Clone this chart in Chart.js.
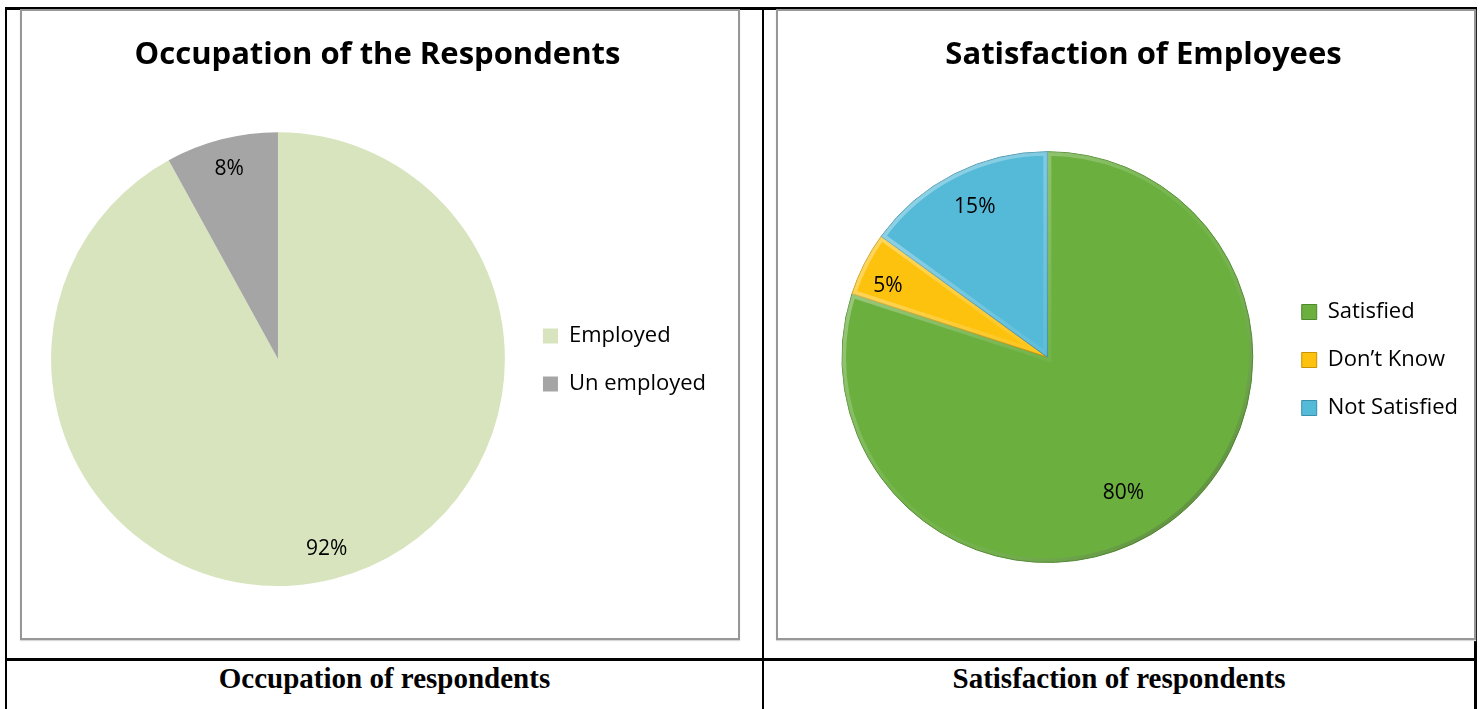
<!DOCTYPE html>
<html>
<head>
<meta charset="utf-8">
<script src="https://cdn.jsdelivr.net/npm/chart.js@4.4.1/dist/chart.umd.min.js"></script>
<style>
  body { margin: 0; background: #fff; width: 1483px; height: 709px; position: relative; overflow: hidden; }
  .rule { position: absolute; background: #000; }
  .box { position: absolute; border: 2px solid #979797; box-sizing: border-box; box-shadow: 0 1px 1px #d8d8d8; }
  canvas { position: absolute; }
  .caption { position: absolute; top: 661px; height: 34px; line-height: 34px; text-align: center;
             font-family: "Liberation Serif", "Times New Roman", serif; font-weight: bold; font-size: 29px; color: #000; }
</style>
</head>
<body>
<!-- table rules -->
<div class="rule" style="left:5px; top:7px; width:1472px; height:3px;"></div>
<div class="rule" style="left:5px; top:7px; width:2px; height:702px;"></div>
<div class="rule" style="left:1474px; top:7px; width:3px; height:702px;"></div>
<div class="rule" style="left:762px; top:7px; width:2px; height:702px;"></div>
<div class="rule" style="left:5px; top:658px; width:1472px; height:3px;"></div>

<div class="box" style="left:20px; top:9px; width:720px; height:631px;"></div>
<div class="box" style="left:776px; top:9px; width:700px; height:631px;"></div>

<canvas id="occupationChart" width="715" height="626" style="left:22px; top:11px;"></canvas>
<canvas id="satisfactionChart" width="696" height="626" style="left:778px; top:11px;"></canvas>

<div class="caption" style="left:7px; width:755px;">Occupation of respondents</div>
<div class="caption" style="left:764px; width:710px;">Satisfaction of respondents</div>

<script>
// datos
const occupationLabels = ['Employed', 'Un employed'];
const occupationValues = [92, 8];
const occupationColors = ['#D7E4BD', '#A5A5A5'];

const satisfactionLabels = ['Satisfied', 'Don\u2019t Know', 'Not Satisfied'];
const satisfactionValues = [80, 5, 15];
const satisfactionColors = ['#6BAF3F', '#FDC20E', '#55BAD8'];
const satisfactionBorders = ['#4E8A2B', '#C79400', '#3A8FAA'];

const fontFamily = "'Open Sans', 'Noto Sans', sans-serif";

// porcentajes dentro de cada sector
const pctLabels = {
  id: 'pctLabels',
  afterDatasetsDraw(chart, args, opts) {
    const ctx = chart.ctx;
    const values = chart.data.datasets[0].data;
    chart.getDatasetMeta(0).data.forEach((arc, i) => {
      const p = arc.getProps(['x', 'y', 'startAngle', 'endAngle', 'outerRadius'], true);
      const mid = (p.startAngle + p.endAngle) / 2 + (opts.shift ? opts.shift[i] : 0);
      const r = p.outerRadius * opts.radius[i];
      ctx.save();
      ctx.font = opts.font;
      ctx.fillStyle = '#000';
      ctx.textAlign = 'center';
      ctx.textBaseline = 'middle';
      ctx.fillText(values[i] + '%', p.x + Math.cos(mid) * r, p.y + Math.sin(mid) * r);
      ctx.restore();
    });
  }
};

// borde biselado para el segundo gráfico
const bevel = {
  id: 'bevel',
  afterDatasetsDraw(chart, args, opts) {
    if (!opts.enabled) return;
    const ctx = chart.ctx;
    chart.getDatasetMeta(0).data.forEach(arc => {
      const p = arc.getProps(['x', 'y', 'startAngle', 'endAngle', 'outerRadius'], true);
      const R = p.outerRadius;
      const g = ctx.createLinearGradient(p.x - R, p.y - R, p.x + R, p.y + R);
      g.addColorStop(0, 'rgba(255,255,255,0.45)');
      g.addColorStop(0.5, 'rgba(255,255,255,0.05)');
      g.addColorStop(1, 'rgba(0,0,0,0.35)');
      ctx.save();
      ctx.beginPath();
      ctx.moveTo(p.x, p.y);
      ctx.arc(p.x, p.y, R, p.startAngle, p.endAngle);
      ctx.closePath();
      ctx.clip();
      ctx.lineWidth = 8;
      ctx.strokeStyle = g;
      ctx.stroke();
      ctx.restore();
    });
  }
};

function titleOpts(text, bottom) {
  return {
    display: true,
    text: text,
    color: '#000',
    font: { family: fontFamily, size: 31, weight: 'bold' },
    padding: { top: 26, bottom: bottom }
  };
}

// leyenda a la derecha; el título vacío baja los elementos
function legendOpts(offset) {
  return {
    position: 'right',
    align: 'center',
    title: { display: true, text: '', font: { size: 10 }, padding: { top: offset, bottom: 0 } },
    labels: {
      color: '#000',
      font: { family: fontFamily, size: 22 },
      boxWidth: 15,
      boxHeight: 15,
      padding: 26
    }
  };
}

new Chart(document.getElementById('occupationChart'), {
  type: 'pie',
  data: {
    labels: occupationLabels,
    datasets: [{
      data: occupationValues,
      backgroundColor: occupationColors,
      borderWidth: 0
    }]
  },
  options: {
    responsive: false,
    animation: false,
    layout: { padding: { left: 17, right: 21, top: 0, bottom: 51 } },
    plugins: {
      title: titleOpts('Occupation of the Respondents', 58),
      legend: legendOpts(111),
      tooltip: { enabled: false },
      pctLabels: { font: '21px ' + fontFamily, radius: [0.865, 0.865] },
      bevel: { enabled: false }
    }
  },
  plugins: [pctLabels, bevel]
});

new Chart(document.getElementById('satisfactionChart'), {
  type: 'pie',
  data: {
    labels: satisfactionLabels,
    datasets: [{
      data: satisfactionValues,
      backgroundColor: satisfactionColors,
      borderColor: satisfactionBorders,
      borderWidth: 1
    }]
  },
  options: {
    responsive: false,
    animation: false,
    layout: { padding: { left: 41, right: 6, top: 0, bottom: 74 } },
    plugins: {
      title: titleOpts('Satisfaction of Employees', 77),
      legend: legendOpts(134),
      tooltip: { enabled: false },
      pctLabels: { font: '21px ' + fontFamily, radius: [0.76, 0.85, 0.81], shift: [0.12, -0.05, 0.02] },
      bevel: { enabled: true }
    }
  },
  plugins: [pctLabels, bevel]
});
</script>
</body>
</html>
